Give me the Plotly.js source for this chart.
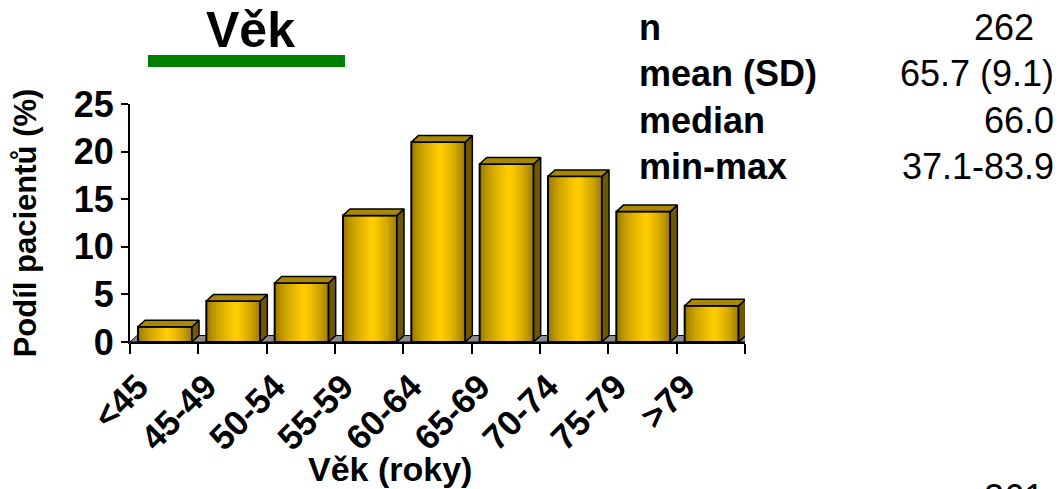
<!DOCTYPE html>
<html>
<head>
<meta charset="utf-8">
<script src="https://cdn.plot.ly/plotly-3.0.1.min.js"></script>
<style>html,body{margin:0;padding:0;background:#fff;}#chart{width:1059px;height:489px;}</style>
</head>
<body>
<div id="chart"></div>
<script>
// ---- data ----
const categories = ['<45','45-49','50-54','55-59','60-64','65-69','70-74','75-79','>79'];
const shares = [1.6, 4.3, 6.2, 13.3, 21.0, 18.7, 17.4, 13.7, 3.8];
const statLabels = ['n', 'mean (SD)', 'median', 'min-max'];
const statValues = ['262', '65.7 (9.1)', '66.0', '37.1-83.9'];
const nextLabel = 'n';
const nextValue = '261';

// ---- geometry / style ----
const FONT = 'Liberation Sans, Arial, sans-serif';
const W = 1059, H = 489;
const M = {l: 130, r: 314, t: 104, b: 147};
const plotH = H - M.t - M.b;
const Lo = -0.383, Ro = 0.407;     // front face offsets (category units)
const DX = 0.103, DY = 0.68;        // depth offsets (x units, y units)
const dark = [122, 96, 0], bright = [255, 204, 0];
function mix(t) {
  return 'rgb(' + dark.map((d, i) => Math.round(d + (bright[i] - d) * t)).join(',') + ')';
}
const xIdx = categories.map((c, i) => i);

const traces = [];
// gradient layers of the front faces
const N = 12;
const co = Lo + 0.55 * (Ro - Lo);
for (let k = 0; k < N; k++) {
  const f = k / N;
  const left = Lo + f * (co - Lo);
  const right = Ro - f * (Ro - co);
  traces.push({
    type: 'bar', x: xIdx, y: shares, offset: left, width: right - left,
    marker: {color: mix(Math.pow((k + 1) / N, 0.55)), line: {width: 0}},
    hoverinfo: 'skip', showlegend: false
  });
}
// outline of front faces
traces.push({
  type: 'bar', x: xIdx, y: shares, offset: Lo, width: Ro - Lo,
  marker: {color: 'rgba(0,0,0,0)', line: {width: 2, color: '#000'}},
  hoverinfo: 'skip', showlegend: false
});
// top faces and side faces
const topX = [], topY = [], sideX = [], sideY = [];
shares.forEach((v, i) => {
  const L = i + Lo, R = i + Ro;
  topX.push(L, R, R + DX, L + DX, L, null);
  topY.push(v, v, v + DY, v + DY, v, null);
  sideX.push(R, R + DX, R + DX, R, R, null);
  sideY.push(0, DY, v + DY, v, 0, null);
});
traces.push({type: 'scatter', mode: 'lines', x: sideX, y: sideY, fill: 'toself',
  fillcolor: '#6e5800', line: {color: '#000', width: 1.5}, hoverinfo: 'skip', showlegend: false});
traces.push({type: 'scatter', mode: 'lines', x: topX, y: topY, fill: 'toself',
  fillcolor: '#a88800', line: {color: '#000', width: 1.5}, hoverinfo: 'skip', showlegend: false});

// helpers pixel -> paper
const px = x => (x - M.l) / (W - M.l - M.r);
const py = y => (H - M.b - y) / plotH;

const annotations = [];
statLabels.forEach((lab, i) => {
  const yy = 27 + i * 46.5;
  annotations.push({xref: 'paper', yref: 'paper', x: px(637), y: py(yy), xanchor: 'left', yanchor: 'middle',
    text: '<b>' + lab + '</b>', showarrow: false, font: {family: FONT, size: 36, color: '#000'}});
  annotations.push({xref: 'paper', yref: 'paper', x: px(i === 0 ? 1036 : 1056), y: py(yy), xanchor: 'right', yanchor: 'middle',
    text: statValues[i], showarrow: false, font: {family: FONT, size: 36, color: '#000'}});
});
annotations.push({xref: 'paper', yref: 'paper', x: px(652), y: py(497), xanchor: 'left', yanchor: 'middle',
  text: '<b>' + nextLabel + '</b>', showarrow: false, font: {family: FONT, size: 36, color: '#000'}});
annotations.push({xref: 'paper', yref: 'paper', x: px(1046), y: py(497), xanchor: 'right', yanchor: 'middle',
  text: nextValue, showarrow: false, font: {family: FONT, size: 36, color: '#000'}});
// chart title
annotations.push({xref: 'paper', yref: 'paper', x: px(250), y: py(30), xanchor: 'center', yanchor: 'middle',
  text: '<b>Věk</b>', showarrow: false, font: {family: FONT, size: 50, color: '#000'}});
// x axis title
annotations.push({xref: 'paper', yref: 'paper', x: px(390), y: py(469), xanchor: 'center', yanchor: 'middle',
  text: '<b>Věk (roky)</b>', showarrow: false, font: {family: FONT, size: 34, color: '#000'}});

const shapes = [
  // floor
  {type: 'path', xref: 'x', yref: 'y', layer: 'below',
   path: 'M ' + (-0.5) + ',0 L ' + (categories.length - 0.5) + ',0 L ' + (categories.length - 0.5 + DX) + ',' + DY +
         ' L ' + (-0.5 + DX) + ',' + DY + ' Z',
   fillcolor: '#8c8c8c', line: {color: '#000', width: 1}},
  // green underline of title
  {type: 'line', xref: 'paper', yref: 'paper', x0: px(148), x1: px(345), y0: py(61), y1: py(61),
   line: {color: '#008000', width: 12}}
];

const boundaries = [];
for (let i = 0; i <= categories.length; i++) boundaries.push(i - 0.5);

const layout = {
  width: W, height: H, margin: M,
  paper_bgcolor: '#fff', plot_bgcolor: '#fff',
  barmode: 'overlay', showlegend: false, hovermode: false,
  font: {family: FONT, color: '#000'},
  xaxis: {
    type: 'linear', range: [-0.5, categories.length - 0.5], fixedrange: true,
    tickmode: 'array', tickvals: xIdx, ticktext: categories.map(c => '<b>' + c + '</b>'),
    ticks: '', tickangle: -45, ticklabelshift: -26, ticklabelstandoff: 8,
    tickfont: {family: FONT, size: 35, color: '#000'},
    showgrid: false, zeroline: false, showline: true, linecolor: '#000', linewidth: 2,
    minor: {tickmode: 'array', tickvals: boundaries, ticks: 'outside', ticklen: 10, tickwidth: 2, tickcolor: '#000', showgrid: false}
  },
  yaxis: {
    range: [0, 25], dtick: 5, tick0: 0, fixedrange: true,
    ticks: 'outside', ticklen: 7, tickwidth: 2, tickcolor: '#000',
    tickfont: {family: FONT, size: 36, color: '#000'}, tickprefix: '<b>', ticksuffix: '</b>',
    showgrid: false, zeroline: false, showline: true, linecolor: '#000', linewidth: 2,
    title: {text: '<b>Podíl pacientů (%)</b>', font: {family: FONT, size: 31, color: '#000'}, standoff: 28}
  },
  annotations: annotations,
  shapes: shapes
};

Plotly.newPlot('chart', traces, layout, {staticPlot: true, displayModeBar: false});
</script>
</body>
</html>
